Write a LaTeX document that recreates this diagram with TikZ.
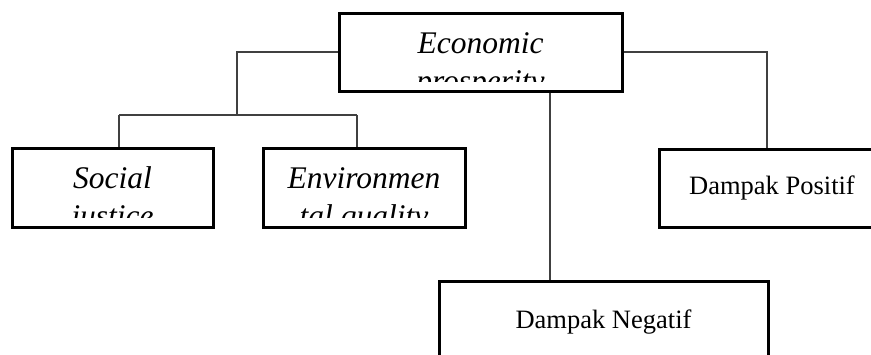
\documentclass[tikz,border=0pt]{standalone}
\usepackage{fontspec}
\setmainfont{Liberation Serif}
\begin{document}
\begin{tikzpicture}[x=1pt, y=-1pt,
    frame/.style={rectangle, draw=black, line width=3pt, inner sep=0pt},
    cutbox/.style={frame, path picture={
        \clip ([yshift=\textcut]path picture bounding box.south west) rectangle (path picture bounding box.north east);
        \node[anchor=base, align=center, font=\fontsize{31.5}{38}\selectfont\itshape]
        at ([yshift=-\textdrop]path picture bounding box.north) {#1};}},
    plainbox/.style={frame, font=\fontsize{26.5}{32}\selectfont},
    link/.style={draw=black!75, line width=1.4pt}]

    \newcommand*{\textdrop}{78.5pt}% baseline of the lower line
    \newcommand*{\textcut}{9.5pt}%

    \useasboundingbox (0,0) rectangle (871,354);
    \clip (0,0) rectangle (871,354);

    % boxes ↓
    \node [cutbox={Economic\\prosperity}, minimum width=283pt, minimum height=78pt] (econ) at (480.5,52) {};
    \node [cutbox={Social\\justice}, minimum width=201pt, minimum height=79pt] (social) at (112.5,187.5) {};
    \node [cutbox={Environmen\\tal quality}, minimum width=202pt, minimum height=79pt] (env) at (364,187.5) {};
    \node [plainbox, minimum width=226pt, minimum height=78pt] (pos) at (772,188) {Dampak Positif};
    \node [plainbox, minimum width=329pt, minimum height=82pt] (neg) at (603.5,322) {Dampak Negatif};

    \coordinate (split) at (237,115);
    \coordinate (jl) at (119,115);
    \coordinate (jr) at (357,115);
    \coordinate (drop) at (550,0);
    \coordinate (rise) at (767,0);

    % left ↓
    \draw [link] (econ.west) -| (split);
    \draw [link] (jl) -- (jr);
    \foreach \b/\n in {jl/social, jr/env}
        \draw [link] (\b) -- (\n.north -| \b);

    % down and right ↓
    \draw [link] (econ.south -| drop) -- (neg.north -| drop);
    \draw [link] (econ.east) -| (pos.north -| rise);

\end{tikzpicture}
\end{document}
